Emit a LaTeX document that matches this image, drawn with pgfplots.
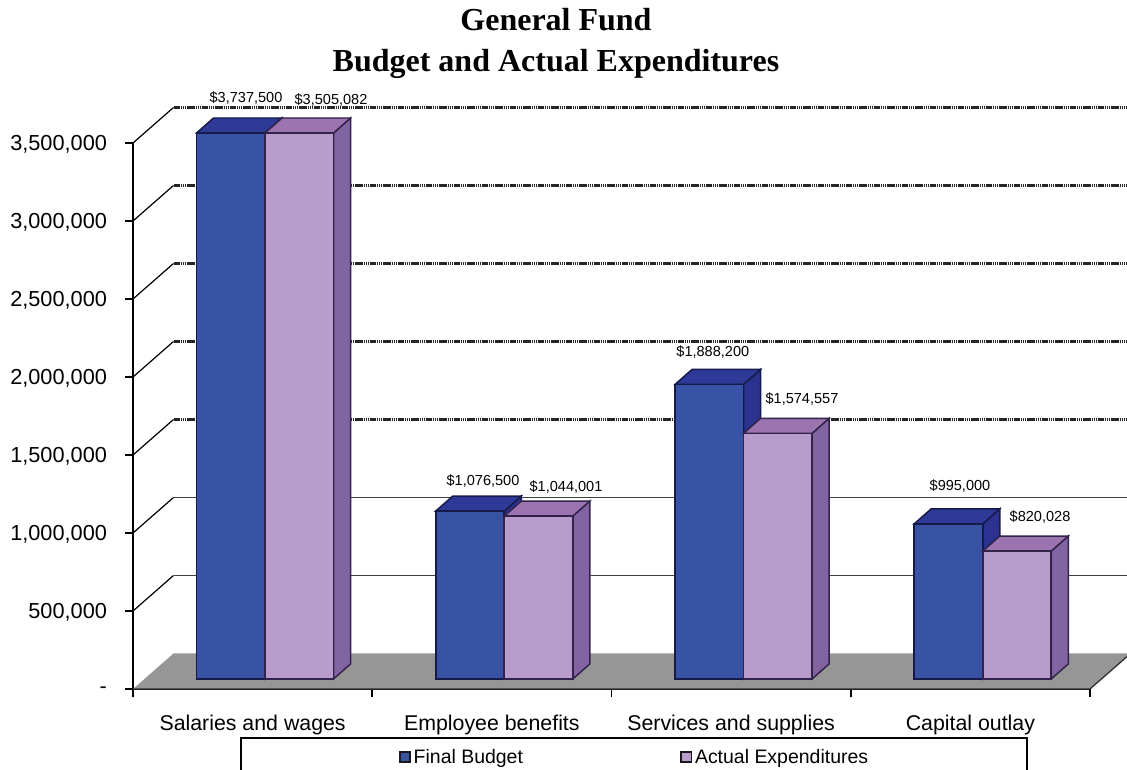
\documentclass[border=0pt]{standalone}
\usepackage{fontspec}
\setmainfont{Liberation Sans}
\newfontfamily\titlefont{Liberation Serif}
\usepackage{xfp}
\usepackage{pgfplots}
\pgfplotsset{compat=1.18}

\definecolor{budgetfront}{RGB}{56,83,164}
\definecolor{budgettop}{RGB}{47,58,152}
\definecolor{budgetside}{RGB}{43,50,144}
\definecolor{budgetedge}{RGB}{22,26,75}
\definecolor{actualfront}{RGB}{184,156,203}
\definecolor{actualtop}{RGB}{155,116,176}
\definecolor{actualside}{RGB}{131,100,162}
\definecolor{actualedge}{RGB}{50,35,75}
\definecolor{floorgrey}{RGB}{150,150,150}

% Scale: 1 px = 0.75 pt; one category = 239.25 px; 1 px of height = 6410.26 dollars.
\newcommand\cuboid[4]{% category, side (-1 left, 0 right), value, colour prefix
  \edef\xl{\fpeval{#1+(#2)*0.2863+0.0518}}%
  \edef\xr{\fpeval{#1+(#2)*0.2863+0.0518+0.2863}}%
  \edef\xlb{\fpeval{\xl+0.0711}}%
  \edef\xrb{\fpeval{\xr+0.0711}}%
  \edef\yb{64103}%
  \edef\ybb{\fpeval{64103+96154}}%
  \edef\yt{\fpeval{64103+min(#3,3500000)}}%
  \edef\ytb{\fpeval{\yt+96154}}%
  \addplot[fill=#4side,draw=#4edge,line width=1.1pt] coordinates
    {(\xr,\yb) (\xrb,\ybb) (\xrb,\ytb) (\xr,\yt)} --cycle;
  \addplot[fill=#4top,draw=#4edge,line width=1.1pt] coordinates
    {(\xl,\yt) (\xlb,\ytb) (\xrb,\ytb) (\xr,\yt)} --cycle;
  \addplot[fill=#4front,draw=#4edge,line width=1.2pt] coordinates
    {(\xl,\yb) (\xr,\yb) (\xr,\yt) (\xl,\yt)} --cycle;
}
% One level of the wall: the slanted piece on the left and the line along the back.
\newcommand\wallline[2]{%
  \edef\yy{\fpeval{#1+227564}}%
  \addplot[black,line width=0.9pt] coordinates {(-0.5,#1) (-0.3307,\yy)};
  \addplot[#2] coordinates {(-0.3307,\yy) (3.6693,\yy)};
}

\begin{document}
\begin{tikzpicture}
\useasboundingbox (0,0) rectangle (845.25pt,577.5pt);
\begin{axis}[
  at={(99.75pt,60.75pt)}, anchor=south west,
  scale only axis, width=717.75pt, height=409.5pt,
  xmin=-0.5, xmax=3.5, ymin=0, ymax=3500000,
  clip=false,
  scaled y ticks=false,
  axis lines*=left,
  axis line style={-,black,line width=1pt},
  xtick={0,1,2,3},
  xticklabels={Salaries and wages,Employee benefits,Services and supplies,Capital outlay},
  minor xtick={-0.5,0.5,1.5,2.5,3.5},
  major x tick style={draw=none},
  minor tick length=6pt,
  minor x tick style={draw=black,line width=1.2pt},
  xticklabel style={font=\fontsize{16}{18}\selectfont, yshift=-10pt},
  ytick={0,500000,1000000,1500000,2000000,2500000,3000000,3500000},
  yticklabels={{-\hspace{10pt}},{500,000},{1,000,000},{1,500,000},{2,000,000},{2,500,000},{3,000,000},{3,500,000}},
  major y tick style={black,line width=1.2pt},
  major tick length=6pt,
  yticklabel style={font=\fontsize{16.3}{18}\selectfont, xshift=-10pt, yshift=-1pt},
  tick align=outside,
  title={General Fund\\Budget and Actual Expenditures},
  title style={at={(axis description cs:0.442,1.095)}, anchor=south, align=center,
    font=\titlefont\bfseries\fontsize{24}{30.5}\selectfont},
  legend columns=2,
  legend style={
    at={(axis description cs:0.278,-0.1245)}, anchor=west,
    draw=none, fill=none, inner sep=0pt, outer sep=0pt,
    font=\fontsize{14.6}{18}\selectfont,
    /tikz/every even column/.append style={column sep=116pt},
  },
  legend image code/.code={
    \draw[#1,line width=1.2pt] (0.6pt,-3.9pt) rectangle (8.4pt,3.9pt);
  },
]
\addlegendimage{fill=budgetfront,draw=black!90}
\addlegendimage{fill=actualfront,draw=black!90}
\legend{Final Budget,Actual Expenditures}

% Frame round the legend
\draw[black,line width=1.4pt,fill=white]
  (axis description cs:0.1129,-0.0897) rectangle (axis description cs:0.9342,-0.1593);

% Floor
\addplot[fill=floorgrey,draw=none] coordinates
  {(-0.5,0) (-0.3307,227564) (3.6693,227564) (3.5,0)} --cycle;
\addplot[black!80,line width=1pt] coordinates {(-0.5,0) (3.5,0) (3.6693,227564)};

% Back wall
\wallline{500000}{black!75,line width=1pt}
\wallline{1000000}{black!75,line width=1pt}
\wallline{1500000}{black!85,line width=1.7pt,dash pattern=on 1pt off 0.4pt}
\wallline{2000000}{black!85,line width=1.7pt,dash pattern=on 1pt off 0.4pt}
\wallline{2500000}{black!85,line width=1.7pt,dash pattern=on 1pt off 0.4pt}
\wallline{3000000}{black!85,line width=1.7pt,dash pattern=on 1pt off 0.4pt}
\wallline{3500000}{black!85,line width=1.7pt,dash pattern=on 1pt off 0.4pt}

% Bars: final budget, then actual expenditures
\cuboid{0}{-1}{3737500}{budget}
\cuboid{0}{0}{3505082}{actual}
\cuboid{1}{-1}{1076500}{budget}
\cuboid{1}{0}{1044001}{actual}
\cuboid{2}{-1}{1888200}{budget}
\cuboid{2}{0}{1574557}{actual}
\cuboid{3}{-1}{995000}{budget}
\cuboid{3}{0}{820028}{actual}

% Value labels
\tikzset{vlabel/.style={font=\fontsize{10.9}{12}\selectfont,inner sep=0pt}}
\node[vlabel] at (axis cs:-0.0276,3788460) {\$3,737,500};
\node[vlabel] at (axis cs:0.3277,3775640) {\$3,505,082};
\node[vlabel] at (axis cs:0.9630,1333333) {\$1,076,500};
\node[vlabel] at (axis cs:1.3099,1294872) {\$1,044,001};
\node[vlabel] at (axis cs:1.9234,2160257) {\$1,888,200};
\node[vlabel] at (axis cs:2.2962,1858975) {\$1,574,557};
\node[vlabel] at (axis cs:2.9565,1301282) {\$995,000};
\node[vlabel] at (axis cs:3.2912,1102564) {\$820,028};
\end{axis}
\end{tikzpicture}
\end{document}
